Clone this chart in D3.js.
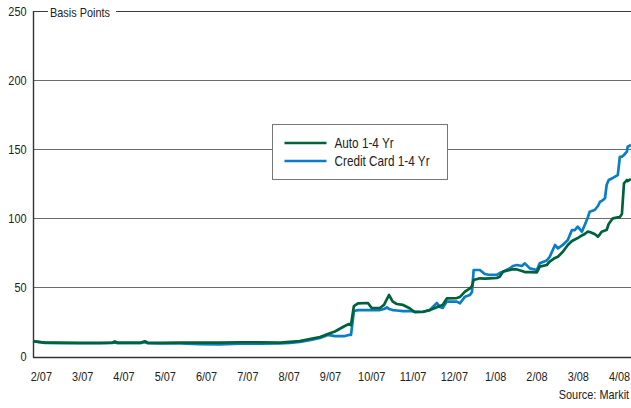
<!DOCTYPE html>
<html>
<head>
<meta charset="utf-8">
<script src="https://cdn.jsdelivr.net/npm/d3@7/dist/d3.min.js"></script>
<style>
  html, body { margin: 0; padding: 0; background: #fff; }
  svg { display: block; font-family: "Liberation Sans", Arial, sans-serif; }
  /* condensed look for all labels */
  svg text { transform-box: fill-box; transform: scaleX(0.84); }
  .a-start { transform-origin: left center; }
  .a-middle { transform-origin: center center; }
  .a-end { transform-origin: right center; }
</style>
</head>
<body>
<svg id="chart" width="631" height="408"></svg>
<script>
// Month labels along the bottom (one per month, Feb 2007 .. Apr 2008)
const monthLabels = ["2/07","3/07","4/07","5/07","6/07","7/07","8/07","9/07","10/07","11/07","12/07","1/08","2/08","3/08","4/08"];

// Observation times, in months after the 2/07 mark
const months = [
  -0.19, 0.10, 0.46, 0.94, 1.43, 1.74, 1.79, 1.86, 2.40, 2.52, 2.59, 2.88, 3.37, 3.85, 4.33,
  4.82, 5.30, 5.79, 6.03, 6.27, 6.51, 6.76, 6.95, 7.12, 7.36, 7.46, 7.51, 7.58, 7.68, 7.92,
  8.01, 8.21, 8.31, 8.38, 8.43, 8.52, 8.62, 8.77, 8.93, 9.06, 9.25, 9.42, 9.59, 9.66, 9.73,
  9.83, 10.07, 10.15, 10.27, 10.39, 10.44, 10.48, 10.63, 10.75, 10.87, 11.04, 11.11, 11.19, 11.36, 11.43,
  11.53, 11.65, 11.72, 11.84, 12.01, 12.08, 12.25, 12.32, 12.45, 12.52, 12.64, 12.76, 12.86, 12.93, 13.00,
  13.10, 13.17, 13.24, 13.29, 13.41, 13.49, 13.54, 13.58, 13.66, 13.70, 13.75, 13.85, 13.97, 14.02, 14.07,
  14.12, 14.19, 14.21, 14.29
];

// Spread in basis points, Auto ABS 1-4 yr
const autoSpread = [
  10.9, 10.1, 10.0, 9.9, 9.9, 10.1, 10.9, 10.0, 10.0, 11.0, 9.9, 9.8, 10.1, 10.0, 10.1,
  10.3, 10.3, 10.1, 10.6, 11.2, 12.7, 14.1, 16.3, 18.1, 22.1, 23.5, 22.8, 36.5, 38.5, 38.7,
  35.1, 35.1, 37.3, 41.6, 44.5, 39.7, 38.0, 37.3, 34.9, 32.0, 32.4, 33.6, 35.6, 36.5, 37.3,
  42.0, 42.3, 43.1, 46.9, 49.3, 51.0, 55.4, 56.6, 56.4, 56.6, 56.8, 57.7, 61.4, 62.6, 63.1,
  63.0, 61.9, 61.1, 61.1, 60.9, 65.0, 66.2, 68.6, 71.3, 72.2, 75.8, 80.7, 83.6, 84.7, 85.7,
  87.6, 88.6, 90.3, 90.1, 88.6, 86.7, 88.6, 90.3, 91.2, 91.5, 95.9, 100.0, 100.7, 100.9, 103.1,
  125.3, 127.7, 127.0, 128.4
];

// Spread in basis points, Credit Card ABS 1-4 yr
const cardSpread = [
  11.2, 9.8, 9.6, 9.6, 9.6, 9.8, 10.1, 9.6, 9.6, 10.3, 9.6, 9.4, 9.4, 8.9, 8.8,
  9.3, 9.3, 9.4, 9.8, 10.5, 11.9, 13.4, 15.6, 14.8, 14.8, 15.6, 15.6, 32.9, 33.6, 33.6,
  33.6, 33.6, 34.4, 35.5, 34.4, 33.6, 33.3, 32.9, 32.9, 32.4, 32.2, 33.6, 38.7, 35.8, 35.1,
  39.7, 39.7, 38.5, 43.3, 44.5, 46.7, 62.6, 62.6, 59.7, 59.0, 59.0, 60.4, 61.4, 63.8, 65.5,
  66.2, 65.5, 67.4, 63.8, 62.6, 67.4, 69.5, 72.0, 80.7, 78.3, 80.7, 84.3, 91.5, 91.5, 93.9,
  90.3, 95.2, 100.2, 104.8, 106.0, 108.9, 112.0, 112.5, 114.5, 124.1, 127.7, 129.2, 131.3, 144.4, 144.6,
  145.8, 148.2, 151.8, 153.0
];

const yTicks = [0, 50, 100, 150, 200, 250];
const seriesNames = ["Auto 1-4 Yr", "Credit Card 1-4 Yr"];
const seriesColors = ["#00613b", "#0a7dc6"];

const svg = d3.select("#chart");
const plotLeft = 33, plotRight = 631, plotTop = 11, plotBottom = 356.5;
const squeeze = 0.84;

const x = d3.scaleLinear().domain([months[0], months[months.length - 1]]).range([plotLeft, plotRight]);
const y = d3.scaleLinear().domain([0, 250]).range([plotBottom, plotTop]);

// Horizontal gridlines
svg.append("g")
  .selectAll("line")
  .data(yTicks.filter(d => d > 0))
  .join("line")
  .attr("x1", plotLeft).attr("x2", plotRight)
  .attr("y1", d => Math.round(y(d)) + 0.5).attr("y2", d => Math.round(y(d)) + 0.5)
  .attr("stroke", d => d === 250 ? "#3a3a3a" : "#6a6a6a")
  .attr("stroke-width", 1.2);

// Y axis labels
const yAxis = d3.axisLeft(y).tickValues(yTicks).tickSize(0).tickPadding(0);
const gy = svg.append("g").attr("transform", `translate(${plotLeft - 6.5},0)`).call(yAxis);
gy.select(".domain").remove();
gy.selectAll("text").attr("class", "a-end").attr("font-size", 13).attr("fill", "#222")
  .style("font-family", "inherit");

// Axis lines
svg.append("line").attr("x1", plotLeft + 0.5).attr("x2", plotLeft + 0.5)
  .attr("y1", plotTop).attr("y2", Math.round(plotBottom) + 0.5)
  .attr("stroke", "#333").attr("stroke-width", 1.4);
svg.append("line").attr("x1", plotLeft).attr("x2", plotRight)
  .attr("y1", Math.round(plotBottom) + 0.5).attr("y2", Math.round(plotBottom) + 0.5)
  .attr("stroke", "#333").attr("stroke-width", 1.4);

// Axis title sitting in a gap of the top rule
const title = svg.append("g");
const titleText = title.append("text")
  .attr("class", "a-start")
  .attr("x", 50).attr("y", 17.5)
  .attr("font-size", 13).attr("fill", "#222")
  .text("Basis Points");
const tb = titleText.node().getBBox();
title.insert("rect", "text")
  .attr("x", tb.x - 2).attr("y", tb.y).attr("width", tb.width * squeeze + 8).attr("height", tb.height)
  .attr("fill", "#fff");

// X axis month labels
const xAxis = d3.axisBottom(x)
  .tickValues(d3.range(monthLabels.length))
  .tickFormat(i => monthLabels[i])
  .tickSize(0).tickPadding(0);
const gx = svg.append("g").attr("transform", "translate(0,372)").call(xAxis);
gx.select(".domain").remove();
gx.selectAll("text").attr("class", "a-middle").attr("font-size", 13).attr("fill", "#222")
  .style("font-family", "inherit");

// Series lines (credit card underneath, auto on top)
const line = vals => d3.line()
  .x((d, i) => x(months[i]))
  .y(d => y(d))(vals);

svg.append("path")
  .attr("d", line(cardSpread))
  .attr("fill", "none").attr("stroke", seriesColors[1])
  .attr("stroke-width", 2.7).attr("stroke-linejoin", "round");
svg.append("path")
  .attr("d", line(autoSpread))
  .attr("fill", "none").attr("stroke", seriesColors[0])
  .attr("stroke-width", 2.7).attr("stroke-linejoin", "round");

// Legend
const legend = svg.append("g").attr("transform", "translate(272.5,124.5)");
legend.append("rect").attr("width", 175).attr("height", 55)
  .attr("fill", "#fff").attr("stroke", "#777").attr("stroke-width", 1);
seriesNames.forEach((name, i) => {
  const row = legend.append("g").attr("transform", `translate(0,${18.5 + i * 18})`);
  row.append("line").attr("x1", 12).attr("x2", 54).attr("y1", 0).attr("y2", 0)
    .attr("stroke", seriesColors[i]).attr("stroke-width", 2.7);
  row.append("text").attr("class", "a-start").attr("x", 62).attr("y", 5)
    .attr("font-size", 14).attr("fill", "#222").text(name);
});

// Source note
svg.append("text")
  .attr("class", "a-end")
  .attr("x", 629).attr("y", 399).attr("text-anchor", "end")
  .attr("font-size", 13).attr("fill", "#222")
  .text("Source: Markit");
</script>
</body>
</html>
